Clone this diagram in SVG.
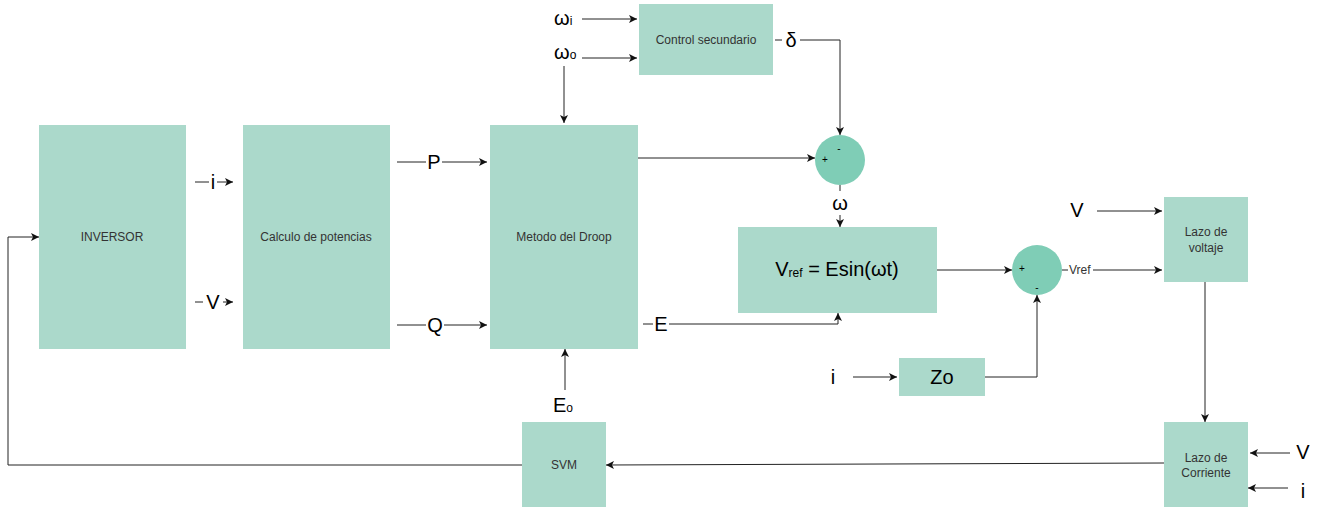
<svg xmlns="http://www.w3.org/2000/svg" width="1324" height="511" viewBox="0 0 1324 511">
<style>
.box{fill:#abd9cb}
.sum{fill:#7fcdb6}
.lbl{font-family:"Liberation Sans",Arial,sans-serif;font-size:12px;fill:#333;text-anchor:middle;dominant-baseline:central}
.big{font-family:"Liberation Sans",Arial,sans-serif;font-size:20px;fill:#000;dominant-baseline:central}
.bb{font-family:"Liberation Sans",Arial,sans-serif;font-size:20px;fill:#000}
.sm{font-family:"Liberation Sans",Arial,sans-serif;font-size:10px;fill:#000;dominant-baseline:central}
.ln{fill:none;stroke:#222;stroke-width:1}
</style>
<defs>
<marker id="ah" viewBox="0 0 8 8" refX="8" refY="4" markerWidth="8" markerHeight="8" markerUnits="userSpaceOnUse" orient="auto">
<path d="M0,0 L8,4 L0,8 L2,4 Z" fill="#111"/>
</marker>
</defs>
<g id="inversor"><rect class="box" x="39" y="125" width="147" height="224"/><text class="lbl" x="112" y="237">INVERSOR</text></g>
<g id="calculo"><rect class="box" x="243" y="125" width="147" height="224"/><text class="lbl" x="316" y="237">Calculo de potencias</text></g>
<g id="droop"><rect class="box" x="490" y="125" width="148" height="224"/><text class="lbl" x="564" y="237">Metodo del Droop</text></g>
<g id="control"><rect class="box" x="639" y="4" width="134" height="71"/><text class="lbl" x="706" y="40">Control secundario</text></g>
<g id="sum1"><circle class="sum" cx="840" cy="160" r="25"/><text class="sm" x="825" y="159" text-anchor="middle">+</text><text class="sm" x="839" y="148" text-anchor="middle">-</text></g>
<g id="vref"><rect class="box" x="738" y="227" width="199" height="86"/><text class="bb" x="837" y="276" text-anchor="middle">V<tspan font-size="12" dy="1">ref</tspan><tspan dy="-1"> = Esin(ωt)</tspan></text></g>
<g id="sum2"><circle class="sum" cx="1037" cy="270" r="25"/><text class="sm" x="1022" y="268" text-anchor="middle">+</text><text class="sm" x="1037" y="287" text-anchor="middle">-</text></g>
<g id="lazov"><rect class="box" x="1164" y="197" width="84" height="85"/><text class="lbl" x="1206" y="232">Lazo de</text><text class="lbl" x="1206" y="248">voltaje</text></g>
<g id="zo"><rect class="box" x="899" y="358" width="86" height="38"/><text class="big" x="942" y="377" text-anchor="middle">Zo</text></g>
<g id="lazoc"><rect class="box" x="1164" y="422" width="84" height="85"/><text class="lbl" x="1206" y="458">Lazo de</text><text class="lbl" x="1206" y="473">Corriente</text></g>
<g id="svm"><rect class="box" x="522" y="422" width="84" height="85"/><text class="lbl" x="564" y="465">SVM</text></g>
<g id="connectors">
<path class="ln" d="M195,182 H209 M217,182 H233" marker-end="url(#ah)"/>
<path class="ln" d="M195,302 H203 M223,302 H233" marker-end="url(#ah)"/>
<path class="ln" d="M397,162 H426 M442,162 H487" marker-end="url(#ah)"/>
<path class="ln" d="M397,325 H426 M444,325 H487" marker-end="url(#ah)"/>
<path class="ln" d="M582,19 H637" marker-end="url(#ah)"/>
<path class="ln" d="M582,58 H637" marker-end="url(#ah)"/>
<path class="ln" d="M564,66 V123" marker-end="url(#ah)"/>
<path class="ln" d="M775,40 H782 M800,40 H840 V135" marker-end="url(#ah)"/>
<path class="ln" d="M638,158 H815" marker-end="url(#ah)"/>
<path class="ln" d="M840,185 V191"/>
<path class="ln" d="M840,215 V227" marker-end="url(#ah)"/>
<path class="ln" d="M643,324 H653 M669,324 H838 V313" marker-end="url(#ah)"/>
<path class="ln" d="M937,270 H1012" marker-end="url(#ah)"/>
<path class="ln" d="M853,377 H897" marker-end="url(#ah)"/>
<path class="ln" d="M985,377 H1037 V295" marker-end="url(#ah)"/>
<path class="ln" d="M1062,270 H1068 M1093,270 H1162" marker-end="url(#ah)"/>
<path class="ln" d="M1097,211 H1162" marker-end="url(#ah)"/>
<path class="ln" d="M1205,282 V422" marker-end="url(#ah)"/>
<path class="ln" d="M1290,453 H1250" marker-end="url(#ah)"/>
<path class="ln" d="M1288,488 H1248" marker-end="url(#ah)"/>
<path class="ln" d="M1164,463 L606,465" marker-end="url(#ah)"/>
<path class="ln" d="M565,390 V349" marker-end="url(#ah)"/>
<path class="ln" d="M522,465 H8 V237 H39" marker-end="url(#ah)"/>
</g>
<g id="labels">
<text class="big" x="213" y="182" text-anchor="middle">i</text>
<text class="big" x="213" y="302" text-anchor="middle">V</text>
<text class="big" x="434" y="162" text-anchor="middle">P</text>
<text class="big" x="435" y="325" text-anchor="middle">Q</text>
<text class="bb" x="554" y="25">ω<tspan font-size="12">i</tspan></text>
<text class="bb" x="554" y="59">ω<tspan font-size="12">o</tspan></text>
<text class="big" x="791" y="40" text-anchor="middle" font-size="22">δ</text>
<text class="big" x="840" y="203" text-anchor="middle">ω</text>
<text class="big" x="661" y="324" text-anchor="middle">E</text>
<text class="bb" x="553" y="412">E<tspan font-size="12">o</tspan></text>
<text class="big" x="833" y="377" text-anchor="middle">i</text>
<text x="1069" y="270" style="font-family:'Liberation Sans',Arial,sans-serif;font-size:12px;fill:#333;dominant-baseline:central">Vref</text>
<text class="big" x="1077" y="210" text-anchor="middle">V</text>
<text class="big" x="1303" y="452" text-anchor="middle">V</text>
<text class="big" x="1303" y="491" text-anchor="middle">i</text>
</g>
</svg>
